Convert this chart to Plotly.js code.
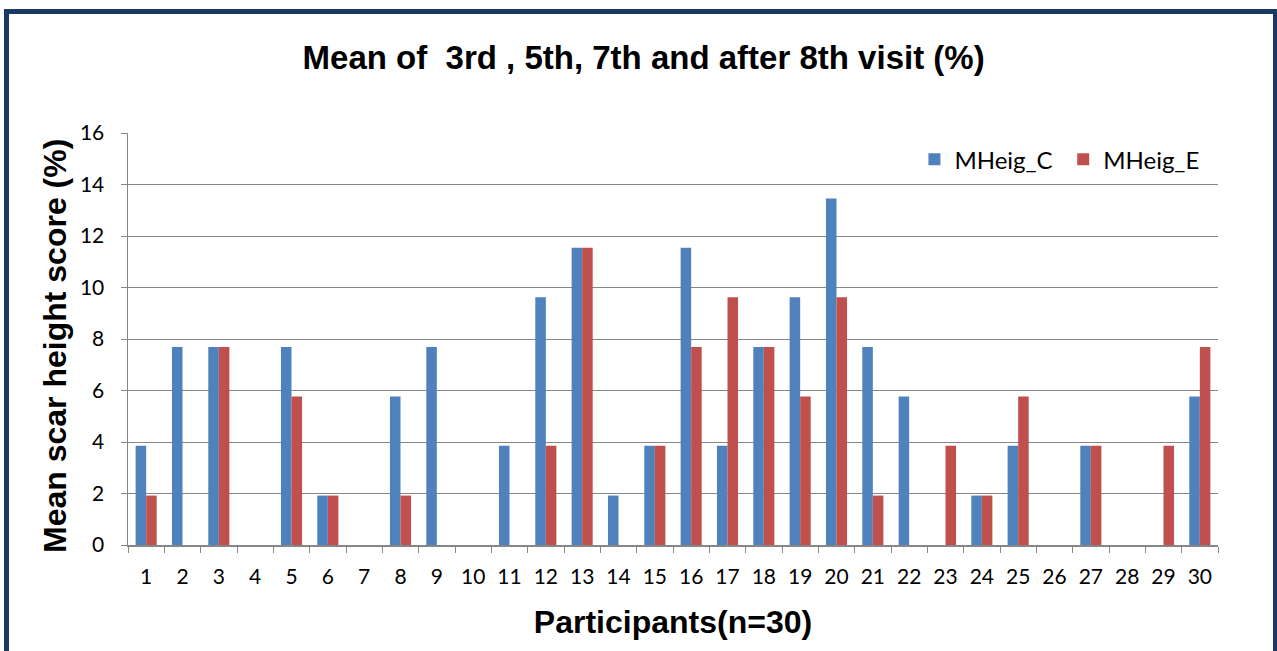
<!DOCTYPE html>
<html><head><meta charset="utf-8">
<script src="https://cdn.plot.ly/plotly-3.0.1.min.js"></script>
<style>
html,body{margin:0;padding:0;background:#fff;}
#chart{width:1277px;height:651px;position:absolute;left:0;top:0;}
#frame{position:absolute;left:4px;top:9px;width:1264px;height:650px;border:5px solid #1B3A63;border-bottom:none;pointer-events:none;}
</style></head>
<body>
<div id="chart"></div>
<div id="frame"></div>
<script>
const participants = ["1","2","3","4","5","6","7","8","9","10","11","12","13","14","15","16","17","18","19","20","21","22","23","24","25","26","27","28","29","30"];
const mheigC = [3.85,7.69,7.69,0,7.69,1.92,0,5.77,7.69,0,3.85,9.62,11.54,1.92,3.85,11.54,3.85,7.69,9.62,13.46,7.69,5.77,0,1.92,3.85,0,3.85,0,0,5.77];
const mheigE = [1.92,0,7.69,0,5.77,1.92,0,1.92,0,0,0,3.85,11.54,0,3.85,7.69,9.62,7.69,5.77,9.62,1.92,0,3.85,1.92,5.77,0,3.85,0,3.85,7.69];
const yTicks = [0,2,4,6,8,10,12,14,16];

const tickFont = {family:"Lato, 'Open Sans', sans-serif", size:21, color:"#000"};
const legFont = {family:"Lato, 'Open Sans', sans-serif", size:24, color:"#000"};
const boldFont = (s) => ({family:"'Liberation Sans', Arial, sans-serif", size:s, color:"#000"});
const traces = [
  {type:"bar", name:"MHeig_C", x:participants, y:mheigC, marker:{color:"#4F81BD"}, legend:"legend"},
  {type:"bar", name:"MHeig_E", x:participants, y:mheigE, marker:{color:"#C0504D"}, legend:"legend2"}
];
const layout = {
  width:1277, height:651,
  margin:{l:128, r:59, t:133, b:106},
  paper_bgcolor:"#fff", plot_bgcolor:"#fff",
  barmode:"group", bargap:0.42, bargroupgap:0,
  title:{text:"<b>Mean of  3rd , 5th, 7th and after 8th visit (%)</b>", x:0.504, xanchor:"center", y:0.911, yanchor:"middle",
    font:boldFont(33)},
  xaxis:{type:"category", tickson:"boundaries", ticks:"outside", ticklen:6, tickcolor:"#868686",
    showline:true, linecolor:"#868686", linewidth:1.5, tickfont:tickFont, showgrid:false, ticklabelstandoff:12,
    title:{text:"<b>Participants(n=30)</b>", standoff:24, font:boldFont(32)}},
  yaxis:{range:[0,16], tickvals:yTicks, ticks:"outside", ticklen:6, tickcolor:"#868686",
    showline:true, linecolor:"#868686", linewidth:1.5, gridcolor:"#868686", gridwidth:1,
    tickfont:tickFont, zeroline:false, ticklabelstandoff:12},
  annotations:[{text:"<b>Mean scar height score (%)</b>", xref:"paper", yref:"paper", x:-0.067, y:0.483,
    xanchor:"center", yanchor:"middle", textangle:-90, showarrow:false, font:boldFont(32)}],
  legend:{orientation:"h", x:0.7215, y:0.99, xanchor:"left", yanchor:"top", font:legFont, bgcolor:"rgba(0,0,0,0)"},
  legend2:{orientation:"h", x:0.858, y:0.99, xanchor:"left", yanchor:"top", font:legFont, bgcolor:"rgba(0,0,0,0)"},
  showlegend:true
};
Plotly.newPlot("chart", traces, layout, {displayModeBar:false, staticPlot:true});
</script>
</body></html>
